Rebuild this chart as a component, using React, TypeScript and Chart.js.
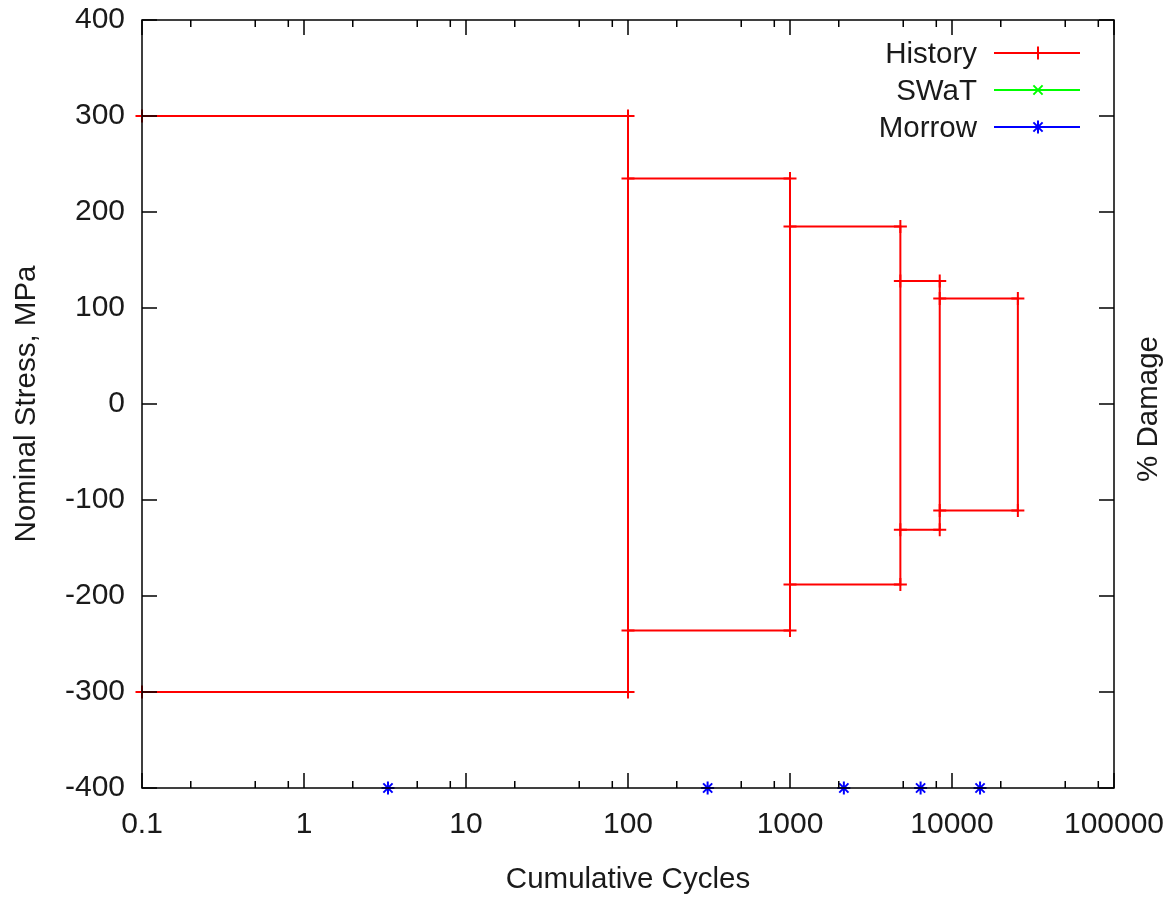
import React, { useEffect, useRef } from "react";
import { Chart, registerables } from "chart.js";

Chart.register(...registerables);

// ---- Data ----
const historyStart = [0.1, 100, 1000, 4800, 8400];
const historyEnd = [100, 1000, 4800, 8400, 25500];
const historyMax = [300, 235, 185, 128, 110];
const historyMin = [-300, -236, -188, -131, -111];

const swatCycles: number[] = [];
const swatDamage: number[] = [];

const morrowCycles = [3.3, 310, 2150, 6400, 14900];
const morrowDamage = [0, 0, 0, 0, 0];

const xTickValues = [0.1, 1, 10, 100, 1000, 10000, 100000];
const xMinorFactors = [2, 5, 8];
const yTickValues = [-400, -300, -200, -100, 0, 100, 200, 300, 400];

const FONT = "'Liberation Sans', Arial, sans-serif";
const TEXT = "#1a1a1a";

function buildHistory() {
  const pts: { x: number; y: number | null }[] = [];
  for (let i = 0; i < historyStart.length; i++) {
    pts.push({ x: historyStart[i], y: historyMax[i] });
    pts.push({ x: historyEnd[i], y: historyMax[i] });
    pts.push({ x: historyEnd[i], y: historyMin[i] });
    pts.push({ x: historyStart[i], y: historyMin[i] });
    if (i < historyStart.length - 1) pts.push({ x: historyStart[i], y: null });
  }
  return pts;
}

function drawMarker(ctx: CanvasRenderingContext2D, style: string, x: number, y: number, r: number) {
  ctx.beginPath();
  if (style === "cross" || style === "star") {
    ctx.moveTo(x - r, y); ctx.lineTo(x + r, y);
    ctx.moveTo(x, y - r); ctx.lineTo(x, y + r);
  }
  if (style === "crossRot" || style === "star") {
    const d = r * Math.SQRT1_2;
    ctx.moveTo(x - d, y - d); ctx.lineTo(x + d, y + d);
    ctx.moveTo(x - d, y + d); ctx.lineTo(x + d, y - d);
  }
  ctx.stroke();
}

const framePlugin = {
  id: "gnuplotFrame",
  afterDatasetsDraw(chart: any) {
    const { ctx, chartArea } = chart;
    const { left, right, top, bottom } = chartArea;
    const xs = chart.scales.x;
    const ys = chart.scales.y;
    ctx.save();
    ctx.strokeStyle = "#000";
    ctx.lineWidth = 1.5;
    ctx.strokeRect(left, top, right - left, bottom - top);
    ctx.beginPath();
    const major = 15;
    const minor = 7;
    for (const v of xTickValues) {
      const px = xs.getPixelForValue(v);
      ctx.moveTo(px, bottom); ctx.lineTo(px, bottom - major);
      ctx.moveTo(px, top); ctx.lineTo(px, top + major);
      if (v < 100000) {
        for (const f of xMinorFactors) {
          const mp = xs.getPixelForValue(v * f);
          ctx.moveTo(mp, bottom); ctx.lineTo(mp, bottom - minor);
          ctx.moveTo(mp, top); ctx.lineTo(mp, top + minor);
        }
      }
    }
    for (const v of yTickValues) {
      const py = ys.getPixelForValue(v);
      ctx.moveTo(left, py); ctx.lineTo(left + major, py);
      ctx.moveTo(right, py); ctx.lineTo(right - major, py);
    }
    ctx.stroke();
    ctx.restore();
  },
  afterDraw(chart: any) {
    const { ctx, chartArea } = chart;
    ctx.save();
    ctx.fillStyle = TEXT;
    ctx.font = `29.5px ${FONT}`;
    ctx.textBaseline = "middle";
    ctx.textAlign = "center";
    // axis titles
    ctx.fillText("Cumulative Cycles", (chartArea.left + chartArea.right) / 2, 880);
    ctx.save();
    ctx.translate(27, 404);
    ctx.rotate(-Math.PI / 2);
    ctx.fillText("Nominal Stress, MPa", 0, 0);
    ctx.restore();
    ctx.save();
    ctx.translate(1149, 409);
    ctx.rotate(-Math.PI / 2);
    ctx.fillText("% Damage", 0, 0);
    ctx.restore();

    // legend
    const dsets = chart.data.datasets;
    dsets.forEach((ds: any, i: number) => {
      const y = 53 + 37 * i;
      ctx.fillStyle = TEXT;
      ctx.textAlign = "right";
      ctx.fillText(ds.label, 977, y + 2);
      ctx.strokeStyle = ds.borderColor;
      ctx.lineWidth = 2;
      ctx.beginPath();
      ctx.moveTo(994, y);
      ctx.lineTo(1080, y);
      ctx.stroke();
      drawMarker(ctx, ds.pointStyle, 1038, y, 6.5);
    });
    ctx.restore();
  },
};

export default function App() {
  const ref = useRef<HTMLCanvasElement | null>(null);

  useEffect(() => {
    if (!ref.current) return;
    const chart = new Chart(ref.current, {
      type: "line",
      data: {
        datasets: [
          {
            label: "History",
            data: buildHistory(),
            borderColor: "#ff0000",
            backgroundColor: "#ff0000",
            borderWidth: 2,
            pointStyle: "cross",
            pointRadius: 6.5,
            pointBorderWidth: 2,
            pointBorderColor: "#ff0000",
            spanGaps: false,
            tension: 0,
            clip: false,
            yAxisID: "y",
          } as any,
          {
            label: "SWaT",
            data: swatCycles.map((c, i) => ({ x: c, y: swatDamage[i] })),
            borderColor: "#00ff00",
            backgroundColor: "#00ff00",
            borderWidth: 2,
            pointStyle: "crossRot",
            pointRadius: 6.5,
            pointBorderWidth: 2,
            showLine: false,
            clip: false,
            yAxisID: "y2",
          } as any,
          {
            label: "Morrow",
            data: morrowCycles.map((c, i) => ({ x: c, y: morrowDamage[i] })),
            borderColor: "#0000ff",
            backgroundColor: "#0000ff",
            borderWidth: 2,
            pointStyle: "star",
            pointRadius: 6.5,
            pointBorderWidth: 2,
            showLine: false,
            clip: false,
            yAxisID: "y2",
          } as any,
        ],
      },
      options: {
        responsive: false,
        animation: false,
        devicePixelRatio: 1,
        layout: { padding: { top: 20, left: 0, right: 0, bottom: 0 } },
        plugins: {
          legend: { display: false },
          tooltip: { enabled: false },
        },
        scales: {
          x: {
            type: "logarithmic",
            min: 0.1,
            max: 100000,
            grid: { display: false, drawTicks: false },
            border: { display: false },
            afterBuildTicks: (s: any) => {
              s.ticks = xTickValues.map((v) => ({ value: v }));
            },
            afterFit: (s: any) => {
              s.height = 111;
              s.paddingLeft = 0;
              s.paddingRight = 0;
            },
            ticks: {
              autoSkip: false,
              maxRotation: 0,
              minRotation: 0,
              padding: 19,
              color: TEXT,
              font: { family: FONT, size: 30 },
              callback: (v: any) => String(v),
            },
          },
          y: {
            type: "linear",
            position: "left",
            min: -400,
            max: 400,
            grid: { display: false, drawTicks: false },
            border: { display: false },
            afterBuildTicks: (s: any) => {
              s.ticks = yTickValues.map((v) => ({ value: v }));
            },
            afterFit: (s: any) => {
              s.width = 142;
              s.paddingTop = 0;
              s.paddingBottom = 0;
            },
            ticks: {
              padding: 17,
              color: TEXT,
              font: { family: FONT, size: 30 },
              callback: (v: any) => String(v),
            },
          },
          y2: {
            type: "linear",
            position: "right",
            min: 0,
            max: 100,
            grid: { display: false, drawTicks: false },
            border: { display: false },
            ticks: { display: false },
            afterFit: (s: any) => {
              s.width = 62;
              s.paddingTop = 0;
              s.paddingBottom = 0;
            },
          },
        },
      } as any,
      plugins: [framePlugin],
    });
    return () => chart.destroy();
  }, []);

  return (
    <div style={{ position: "absolute", left: 0, top: 0, width: 1176, height: 899, background: "#fff" }}>
      <canvas ref={ref} width={1176} height={899} style={{ display: "block" }} />
    </div>
  );
}
